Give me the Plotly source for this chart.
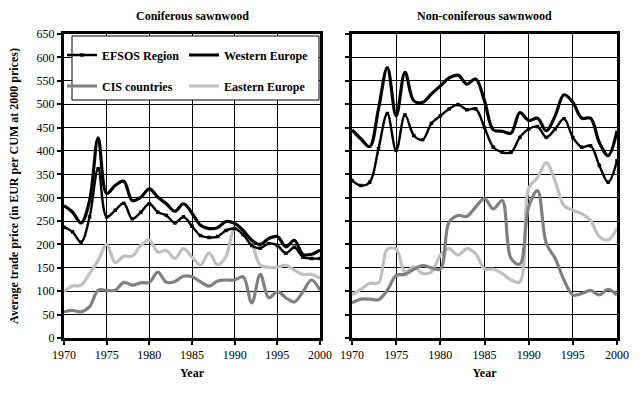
import plotly.graph_objects as go

years = list(range(1970, 2001))

# Coniferous sawnwood (EUR per CUM at 2000 prices)
efsos_con = [237, 227, 205, 259, 362, 259, 273, 288, 255, 269, 287, 269, 262, 246, 259,
             239, 219, 215, 217, 230, 234, 221, 198, 192, 202, 198, 181, 194, 173, 170, 170]
west_con = [283, 269, 246, 294, 428, 309, 326, 335, 294, 301, 319, 301, 287, 271, 287,
            267, 241, 234, 236, 249, 245, 230, 209, 200, 213, 217, 195, 209, 179, 179, 188]
cis_con = [56, 59, 56, 67, 102, 102, 102, 119, 113, 118, 119, 141, 119, 121, 132,
           131, 120, 111, 122, 124, 124, 131, 75, 136, 86, 99, 86, 77, 99, 124, 102]
east_con = [99, 111, 113, 138, 166, 200, 161, 175, 175, 198, 209, 184, 187, 170, 191,
            173, 156, 182, 156, 175, 234, 227, 202, 156, 151, 151, 156, 145, 136, 136, 128]

# Non-coniferous sawnwood
efsos_non = [337, 326, 333, 405, 480, 401, 477, 433, 424, 459, 475, 490, 499, 488, 490,
             450, 408, 397, 397, 429, 447, 452, 429, 447, 469, 429, 408, 411, 369, 333, 379]
west_non = [445, 426, 409, 490, 578, 475, 568, 507, 504, 522, 539, 556, 562, 543, 554,
            507, 445, 442, 438, 482, 465, 470, 443, 475, 520, 504, 470, 470, 418, 390, 443]
cis_non = [75, 83, 83, 82, 102, 134, 136, 147, 155, 150, 147, 248, 262, 260, 280,
           298, 276, 294, 170, 158, 280, 315, 202, 170, 124, 92, 95, 102, 92, 104, 92]
east_non = [92, 104, 117, 118, 190, 190, 141, 152, 138, 141, 177, 191, 177, 191, 180,
            148, 147, 138, 124, 120, 320, 343, 375, 335, 283, 273, 266, 251, 217, 210, 234]

series_names = ["EFSOS Region", "Western Europe", "CIS countries", "Eastern Europe"]
panel_titles = ["Coniferous sawnwood", "Non-coniferous sawnwood"]
y_title = "Average trade price (in EUR per CUM at 2000 prices)"
x_title = "Year"

FONT = "'Liberation Serif', 'Times New Roman', Times, serif"
styles = [
    dict(color="#000000", width=2.4, marker=True),
    dict(color="#000000", width=3.2, marker=False),
    dict(color="#808080", width=3.2, marker=False),
    dict(color="#C0C0C0", width=3.2, marker=False),
]
legend_ids = ["legend", "legend2", "legend3", "legend4"]

fig = go.Figure()
panels = [
    ([efsos_con, west_con, cis_con, east_con], "x", "y", True),
    ([efsos_non, west_non, cis_non, east_non], "x2", "y2", False),
]
for data, xa, ya, show in panels:
    # draw order: light greys first, blacks on top
    for i in [3, 2, 1, 0]:
        st = styles[i]
        fig.add_trace(go.Scatter(
            x=years, y=data[i], name=series_names[i],
            mode="lines+markers" if st["marker"] else "lines",
            line=dict(color=st["color"], width=st["width"], shape="spline", smoothing=1),
            marker=dict(symbol="square", size=3.5, color=st["color"]),
            xaxis=xa, yaxis=ya, showlegend=show, legend=legend_ids[i],
            hoverinfo="skip",
        ))

L, R, T, B = 64, 25, 34, 56
W, H = 642, 394
pw = W - L - R
ph = H - T - B

def px_to_xpaper(px):
    return (px - L) / pw

def px_to_ypaper(py):
    return (H - B - py) / ph

axis_common = dict(
    showgrid=True, gridcolor="#000000", gridwidth=1,
    showline=True, linecolor="#000000", linewidth=3, mirror=True,
    ticks="outside", ticklen=4, tickwidth=2, tickcolor="#000000",
    zeroline=False,
    tickfont=dict(family=FONT, size=12, color="#000000"),
)

x1_dom = [0, px_to_xpaper(320)]
x2_dom = [px_to_xpaper(352), 1]

legend_font = dict(family=FONT, size=12, color="#000000", weight="bold")

def legend_at(px, py):
    return dict(orientation="h", x=px_to_xpaper(px), xanchor="left",
                y=px_to_ypaper(py), yanchor="middle", bgcolor="rgba(0,0,0,0)",
                font=legend_font)

fig.update_layout(
    width=W, height=H,
    margin=dict(l=L, r=R, t=T, b=B),
    paper_bgcolor="white", plot_bgcolor="white",
    font=dict(family=FONT, size=12, color="#000000"),
    xaxis=dict(domain=x1_dom, range=[1970, 2000], dtick=5, anchor="y",
               title=dict(text="<b>" + x_title + "</b>", standoff=8,
                          font=dict(family=FONT, size=12)), **axis_common),
    yaxis=dict(domain=[0, 1], range=[0, 650], dtick=50, anchor="x",
               title=dict(text="<b>" + y_title + "</b>", standoff=16,
                          font=dict(family=FONT, size=12)), **axis_common),
    xaxis2=dict(domain=x2_dom, range=[1970, 2000], dtick=5, anchor="y2",
                title=dict(text="<b>" + x_title + "</b>", standoff=8,
                           font=dict(family=FONT, size=12)), **axis_common),
    yaxis2=dict(domain=[0, 1], range=[0, 650], dtick=50, anchor="x2",
                showticklabels=False, **axis_common),
    legend=legend_at(62, 55),
    legend2=legend_at(184, 55),
    legend3=legend_at(62, 86),
    legend4=legend_at(184, 86),
    showlegend=True,
    hovermode=False,
)

# legend frame
fig.add_shape(type="rect", xref="paper", yref="paper", layer="above",
              x0=px_to_xpaper(72), x1=px_to_xpaper(319),
              y0=px_to_ypaper(100), y1=px_to_ypaper(36),
              line=dict(color="#000000", width=1), fillcolor="white")

# panel titles
for title, dom in zip(panel_titles, [x1_dom, x2_dom]):
    fig.add_annotation(text="<b>" + title + "</b>", xref="paper", yref="paper",
                       x=(dom[0] + dom[1]) / 2, y=px_to_ypaper(16),
                       showarrow=False, xanchor="center", yanchor="middle",
                       font=dict(family=FONT, size=12, color="#000000"))

fig.write_html("out.html", config={"displayModeBar": False, "staticPlot": True},
               post_script="document.body.style.margin='0';document.body.style.padding='0';")
